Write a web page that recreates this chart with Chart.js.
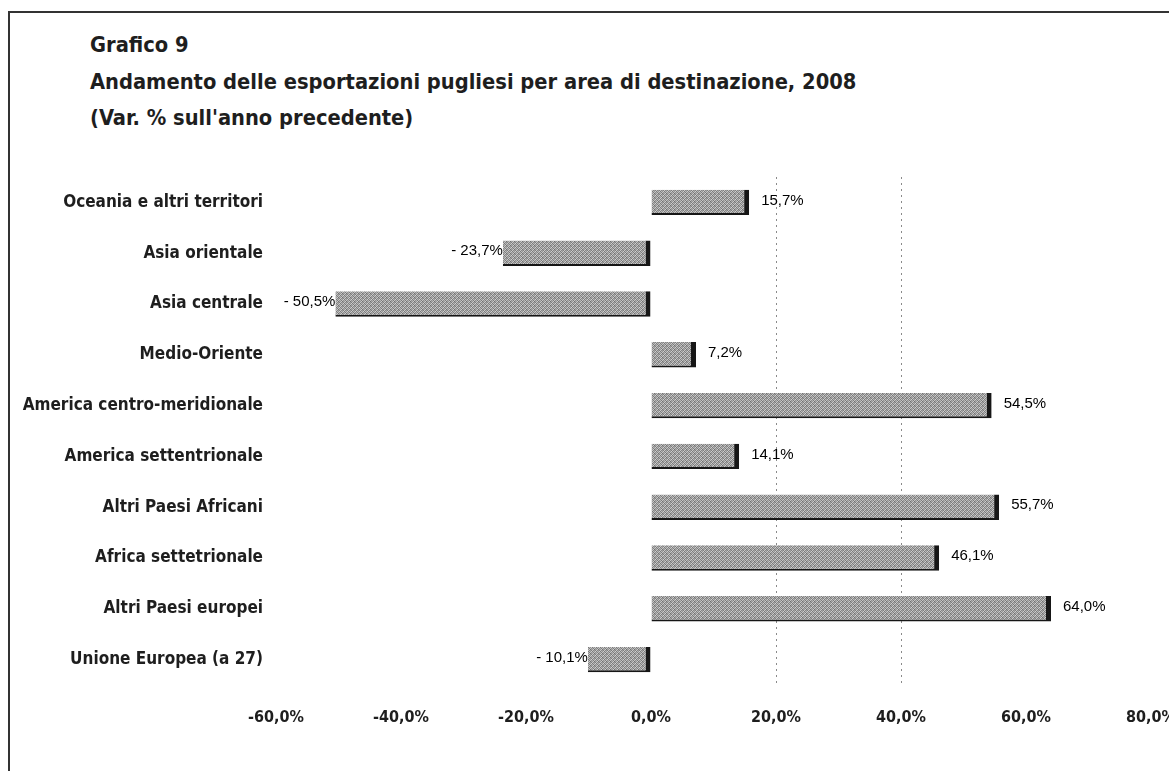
<!DOCTYPE html>
<html>
<head>
<meta charset="utf-8">
<script src="https://cdn.jsdelivr.net/npm/chart.js@4.4.0/dist/chart.umd.min.js"></script>
<style>
  html, body { margin: 0; padding: 0; background: #fff; overflow: hidden; }
  #frame {
    position: absolute; left: 8px; top: 11px; width: 1200px; height: 800px;
    border-left: 2px solid #333; border-top: 2px solid #333;
  }
  .title {
    position: absolute; left: 90px; margin: 0;
    font-family: "DejaVu Sans Condensed", "DejaVu Sans", sans-serif;
    font-weight: bold; font-size: 21.7px; color: #1e1e1e; white-space: nowrap;
  }
  #wrap { position: absolute; left: 0; top: 0; width: 1230px; height: 771px; }
</style>
</head>
<body>
<div id="frame"></div>
<div class="title" style="top:32px">Grafico 9</div>
<div class="title" style="top:69px">Andamento delle esportazioni pugliesi per area di destinazione, 2008</div>
<div class="title" style="top:105px">(Var. % sull'anno precedente)</div>
<div id="wrap"><canvas id="myChart"></canvas></div>
<script>
// Aree di destinazione (dall'alto verso il basso)
const areas = [
    'Oceania e altri territori',
    'Asia orientale',
    'Asia centrale',
    'Medio-Oriente',
    'America centro-meridionale',
    'America settentrionale',
    'Altri Paesi Africani',
    'Africa settetrionale',
    'Altri Paesi europei',
    'Unione Europea (a 27)'
];
const varPct = [15.7, -23.7, -50.5, 7.2, 54.5, 14.1, 55.7, 46.1, 64.0, -10.1];
const xTicks = [-60, -40, -20, 0, 20, 40, 60, 80];

const fmt = v => (v < 0 ? '- ' : '') + Math.abs(v).toFixed(1).replace('.', ',') + '%';

// texture grigia per le barre
function barPattern() {
    const c = document.createElement('canvas');
    c.width = 4; c.height = 4;
    const g = c.getContext('2d');
    const tile = ['#b4b4b4', '#7c7c7c', '#c4c4c4', '#8e8e8e',
                  '#969696', '#cdcdcd', '#707070', '#a8a8a8',
                  '#c8c8c8', '#868686', '#a2a2a2', '#7f7f7f',
                  '#7a7a7a', '#bababa', '#929292', '#d0d0d0'];
    tile.forEach((col, i) => { g.fillStyle = col; g.fillRect(i % 4, Math.floor(i / 4), 1, 1); });
    return g.createPattern(c, 'repeat');
}

const valueLabels = {
    id: 'valueLabels',
    afterDatasetsDraw(chart) {
        const ctx = chart.ctx;
        const meta = chart.getDatasetMeta(0);
        ctx.save();
        ctx.font = '15px "Liberation Sans", Arial, sans-serif';
        ctx.fillStyle = '#000';
        ctx.textBaseline = 'middle';
        meta.data.forEach((bar, i) => {
            const v = varPct[i];
            if (v >= 0) {
                ctx.textAlign = 'left';
                ctx.fillText(fmt(v), bar.x + 12, bar.y - 2);
            } else {
                ctx.textAlign = 'right';
                ctx.fillText(fmt(v), bar.x, bar.y - 2);
            }
        });
        ctx.restore();
    }
};

const ctx = document.getElementById('myChart').getContext('2d');
new Chart(ctx, {
    type: 'bar',
    data: {
        labels: areas,
        datasets: [{
            data: varPct,
            backgroundColor: barPattern(),
            borderColor: '#161616',
            borderWidth: { top: 0, left: 0, right: 5, bottom: 2 },
            borderSkipped: false,
            categoryPercentage: 1,
            barPercentage: 0.5
        }]
    },
    options: {
        indexAxis: 'y',
        responsive: true,
        maintainAspectRatio: false,
        animation: false,
        layout: { padding: { top: 177, right: 79, bottom: 36, left: 0 } },
        plugins: { legend: { display: false }, tooltip: { enabled: false } },
        scales: {
            x: {
                min: -60, max: 80,
                afterBuildTicks: s => { s.ticks = xTicks.map(v => ({ value: v })); },
                afterFit: s => { s.height = 50; },
                border: { display: false, dash: [2, 4] },
                grid: {
                    drawTicks: false,
                    color: c => (c.tick && (c.tick.value === 20 || c.tick.value === 40)) ? '#8a8a8a' : 'rgba(0,0,0,0)',
                    lineWidth: 1
                },
                ticks: {
                    padding: 23,
                    color: '#1e1e1e',
                    font: { family: '"DejaVu Sans Condensed", "DejaVu Sans", sans-serif', size: 16, weight: 'bold' },
                    callback: v => v.toFixed(1).replace('.', ',') + '%'
                }
            },
            y: {
                afterFit: s => { s.width = 276; },
                border: { display: false },
                grid: { display: false, drawTicks: false },
                ticks: {
                    padding: 13,
                    color: '#1e1e1e',
                    font: { family: '"DejaVu Sans Condensed", "DejaVu Sans", sans-serif', size: 17, weight: 'bold' }
                }
            }
        }
    },
    plugins: [valueLabels]
});
</script>
</body>
</html>
